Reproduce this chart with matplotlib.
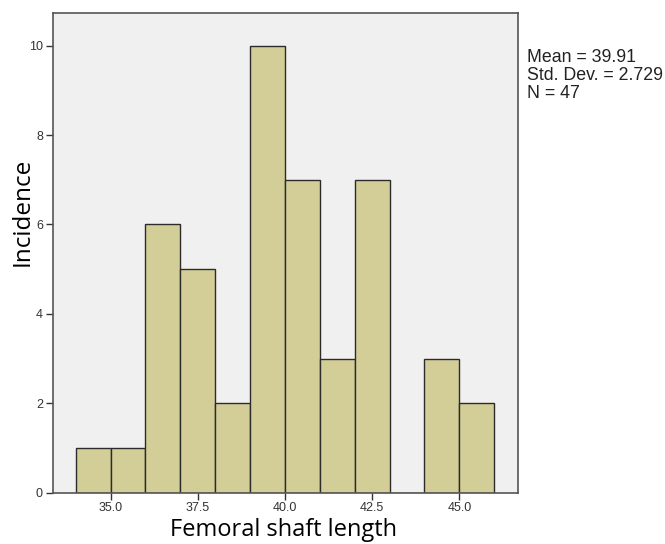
import matplotlib
matplotlib.use("Agg")
import matplotlib.pyplot as plt
import numpy as np

# Data
bin_edges = [34, 35, 36, 37, 38, 39, 40, 41, 42, 43, 44, 45, 46]
counts = [1, 1, 6, 5, 2, 10, 7, 3, 7, 0, 3, 2]
x_ticks = [35.0, 37.5, 40.0, 42.5, 45.0]
y_ticks = [0, 2, 4, 6, 8, 10]
stats_lines = ["Mean = 39.91", "Std. Dev. = 2.729", "N = 47"]
x_label = "Femoral shaft length"
y_label = "Incidence"

W, H = 665, 544
fig = plt.figure(figsize=(W / 100, H / 100), dpi=100)
ax = fig.add_axes([52.7 / W, 1 - 492.7 / H, (518.3 - 52.7) / W, (492.7 - 13) / H])
ax.set_facecolor("#F0F0F0")

lefts = np.array(bin_edges[:-1], dtype=float)
widths = np.diff(bin_edges)
ax.bar(lefts, counts, width=widths, align="edge", color="#D3CE97",
       edgecolor="#2B2B2B", linewidth=1.0)

ax.set_xlim(33.34, 46.69)
ax.set_ylim(0, 10.73)
ax.set_xticks(x_ticks)
ax.set_xticklabels([f"{v:.1f}" for v in x_ticks])
ax.set_yticks(y_ticks)
ax.set_yticklabels([str(v) for v in y_ticks])
ax.tick_params(direction="out", length=5, width=1, color="#333333",
               labelsize=9, labelcolor="#333333", pad=2)
for lab in ax.get_xticklabels() + ax.get_yticklabels():
    lab.set_family("Liberation Sans")
for s in ax.spines.values():
    s.set_color("#555555")
    s.set_linewidth(1.2)

fig.text(283 / W, 1 - 536.5 / H, x_label, fontsize=17, family="Open Sans",
         color="#000000", ha="center", va="baseline")
fig.text(28.3 / W, 1 - 211.5 / H, y_label, fontsize=17.5, family="Open Sans",
         color="#000000", ha="center", va="baseline", rotation=90,
         rotation_mode="anchor")

for i, line in enumerate(stats_lines):
    fig.text(527 / W, 1 - (61.5 + 18.5 * i) / H, line, fontsize=12.8,
             family="Liberation Sans", color="#222222", va="baseline", ha="left")

fig.savefig("out.png", dpi=100, facecolor="white")
